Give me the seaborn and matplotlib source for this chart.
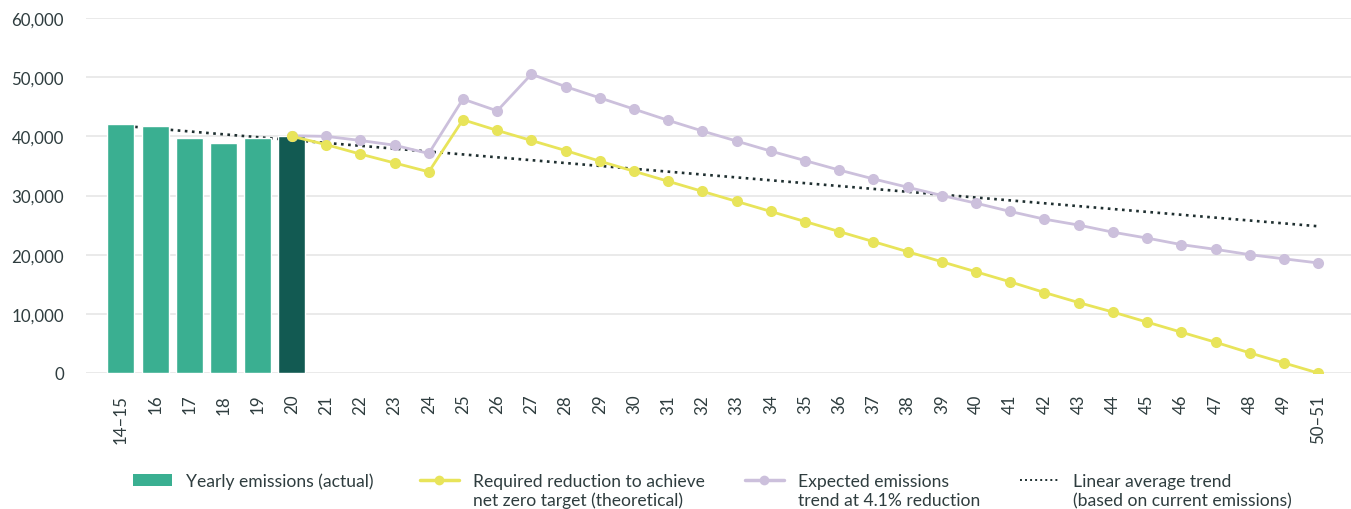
import matplotlib
matplotlib.use("Agg")
import matplotlib.pyplot as plt
import seaborn as sns
import pandas as pd
from matplotlib.patches import Patch
from matplotlib.lines import Line2D

categories = ["14–15", "16", "17", "18", "19", "20", "21", "22", "23", "24", "25",
              "26", "27", "28", "29", "30", "31", "32", "33", "34", "35", "36",
              "37", "38", "39", "40", "41", "42", "43", "44", "45", "46", "47",
              "48", "49", "50–51"]

bar_categories = ["14–15", "16", "17", "18", "19", "20"]
bar_values = [42100, 41700, 39700, 38900, 39700, 40100]
bar_kind = ["past", "past", "past", "past", "past", "current"]

line_categories = categories[5:]
required_values = [40000, 38600, 37000, 35500, 34000, 42800, 41000, 39300, 37600,
                   35800, 34100, 32400, 30700, 29000, 27300, 25600, 23900, 22200,
                   20500, 18800, 17100, 15400, 13600, 11900, 10300, 8600, 6900,
                   5200, 3400, 1700, 0]
expected_values = [40100, 40000, 39300, 38500, 37100, 46300, 44300, 50500, 48400,
                   46500, 44600, 42700, 40900, 39200, 37500, 35900, 34300, 32800,
                   31400, 30000, 28700, 27300, 26000, 25000, 23800, 22800, 21700,
                   20900, 20000, 19300, 18600]

trend_categories = ["14–15", "50–51"]
trend_values = [41800, 24800]

y_ticks = [0, 10000, 20000, 30000, 40000, 50000, 60000]
y_tick_labels = ["0", "10,000", "20,000", "30,000", "40,000", "50,000", "60,000"]

legend_labels = ["Yearly emissions (actual)",
                 "Required reduction to achieve\nnet zero target (theoretical)",
                 "Expected emissions\ntrend at 4.1% reduction",
                 "Linear average trend\n(based on current emissions)"]

C_BAR = "#3aaf91"
C_BAR_DARK = "#125a52"
C_YELLOW = "#e8e45a"
C_PURPLE = "#ccc0dc"
C_DOT = "#1f2f30"
C_TEXT = "#2f3d3f"
C_GRID = "#e6e6e6"

sns.set_theme(style="white")
plt.rcParams["font.family"] = ["Lato", "DejaVu Sans"]

W, H = 1351, 510
fig = plt.figure(figsize=(W / 100, H / 100), dpi=100)
ax = fig.add_axes([86 / W, 1 - 374 / H, 1 - 86 / W, 355 / H])

pos = {c: i for i, c in enumerate(categories)}

# trend (behind bars)
df_trend = pd.DataFrame({"x": [pos[c] for c in trend_categories], "y": trend_values})
sns.lineplot(data=df_trend, x="x", y="y", ax=ax, color=C_DOT, linewidth=1.9,
             linestyle=(0, (1, 1.7)), zorder=1)

df_bars = pd.DataFrame({"cat": bar_categories, "value": bar_values, "kind": bar_kind})
sns.barplot(data=df_bars, x="cat", y="value", hue="kind", order=categories,
            palette={"past": C_BAR, "current": C_BAR_DARK}, width=0.79,
            dodge=False, legend=False, ax=ax, zorder=2, saturation=1)

df_exp = pd.DataFrame({"x": [pos[c] for c in line_categories], "y": expected_values})
sns.lineplot(data=df_exp, x="x", y="y", ax=ax, color=C_PURPLE, linewidth=2.0,
             marker="o", markersize=8, markeredgewidth=0, zorder=3)
df_req = pd.DataFrame({"x": [pos[c] for c in line_categories], "y": required_values})
sns.lineplot(data=df_req, x="x", y="y", ax=ax, color=C_YELLOW, linewidth=2.0,
             marker="o", markersize=8, markeredgewidth=0, zorder=4)

ax.set_xlim(-1.02, 35.96)
ax.set_ylim(0, 60000)
ax.set_yticks(y_ticks)
ax.set_yticklabels(y_tick_labels)
ax.set_xticks(range(len(categories)))
ax.set_xticklabels(categories, rotation=90, va="top", ha="center")
ax.set_xlabel("")
ax.set_ylabel("")
for s in ax.spines.values():
    s.set_visible(False)
ax.grid(axis="y", color=C_GRID, linewidth=1.2, zorder=0)
ax.set_axisbelow(True)
ax.tick_params(axis="y", length=0, pad=16, labelsize=12.2, labelcolor=C_TEXT)
ax.tick_params(axis="x", length=0, pad=15, labelsize=12.2, labelcolor=C_TEXT)

handles = [Patch(facecolor=C_BAR, edgecolor="none"),
           Line2D([], [], color=C_YELLOW, linewidth=2.5, marker="o", markersize=7,
                  markeredgewidth=0),
           Line2D([], [], color=C_PURPLE, linewidth=2.5, marker="o", markersize=7,
                  markeredgewidth=0),
           Line2D([], [], color=C_DOT, linewidth=1.4, linestyle=(0, (1, 1.6)))]
legend_x = [133, 420, 745, 1020]
LEG_FS = 12.6
legs = []
for h, full, lx in zip(handles, legend_labels, legend_x):
    lg = fig.legend([h], [full.split("\n")[0]], loc="center left",
                    bbox_to_anchor=(lx / W, 1 - 482 / H), frameon=False,
                    fontsize=LEG_FS, handlelength=2.2, handletextpad=0.85,
                    borderpad=0, borderaxespad=0, labelcolor=C_TEXT)
    legs.append(lg)
fig.canvas.draw()
for lg, full in zip(legs, legend_labels):
    parts = full.split("\n")
    if len(parts) > 1:
        txt = lg.get_texts()[0]
        ext = txt.get_window_extent()
        fig.text(ext.x0 / W, (ext.y0 + 2 - 18) / H, parts[1], fontsize=LEG_FS,
                 color=C_TEXT, va="baseline", ha="left")

fig.savefig("out.png", dpi=100)
